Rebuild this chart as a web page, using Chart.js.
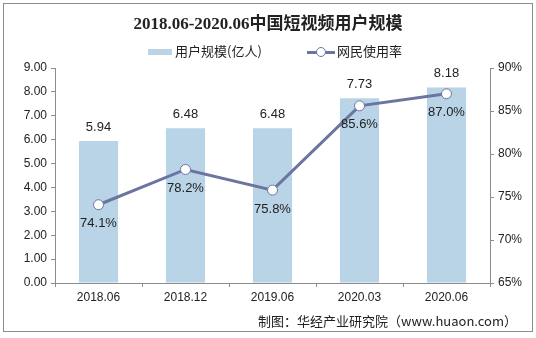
<!DOCTYPE html>
<html>
<head>
<meta charset="utf-8">
<script src="https://cdn.jsdelivr.net/npm/chart.js@4.4.0/dist/chart.umd.min.js"></script>
<style>
html,body{margin:0;padding:0;background:#fff;}
#wrap{position:relative;width:536px;height:338px;overflow:hidden;}
#frame{position:absolute;left:3px;top:3px;width:528px;height:327px;border:1px solid #8c8c8c;box-sizing:content-box;}
#title{position:absolute;left:0;width:536px;top:9px;text-align:center;font:bold 17px "Liberation Serif","DejaVu Serif","Noto Sans CJK SC",serif;color:#222;}
.lg{position:absolute;top:42px;font:13px "Noto Sans CJK SC",sans-serif;color:#222;line-height:18px;}
#src{position:absolute;right:19px;top:311px;font:13px "Noto Sans CJK SC",sans-serif;color:#222;}
canvas{position:absolute;left:0;top:0;}
</style>
</head>
<body>
<div id="wrap">
  <div id="frame"></div>
  <canvas id="c" width="536" height="338"></canvas>
  <div id="title">2018.06-2020.06中国短视频用户规模</div>
  <div class="lg" style="left:148px"><span style="display:inline-block;width:24px;height:6px;background:#b8d4e6;vertical-align:middle;margin-right:3px"></span>用户规模(亿人)</div>
  <div class="lg" style="left:307px"><span style="position:relative;display:inline-block;width:28px;height:10px;vertical-align:middle;margin-right:2px"><span style="position:absolute;left:0;top:4px;width:28px;height:3px;background:#6b75a0"></span><span style="position:absolute;left:9px;top:0;width:8px;height:8px;border:1px solid #6b75a0;border-radius:50%;background:#fff"></span></span>网民使用率</div>
  <div id="src">制图：华经产业研究院（www.huaon.com）</div>
</div>
<script>
const labels = ['2018.06','2018.12','2019.06','2020.03','2020.06'];
const users = [5.94, 6.48, 6.48, 7.73, 8.18];
const rate = [74.1, 78.2, 75.8, 85.6, 87.0];

const barColor = '#b8d4e6';
const lineColor = '#6b75a0';
const axisColor = '#8c8c8c';

// value labels: above the bars, below the line points
const valueLabels = {
  id: 'valueLabels',
  afterDatasetsDraw(chart){
    const ctx = chart.ctx;
    ctx.save();
    ctx.font = '13px "Liberation Sans", Arial, sans-serif';
    ctx.fillStyle = '#222';
    ctx.textAlign = 'center';
    ctx.textBaseline = 'middle';
    chart.getDatasetMeta(1).data.forEach((b,i)=>{
      ctx.fillText(users[i].toFixed(2), b.x, b.y - 14);
    });
    chart.getDatasetMeta(0).data.forEach((p,i)=>{
      ctx.fillText(rate[i].toFixed(1)+'%', p.x, p.y + 19);
    });
    ctx.restore();
  }
};

new Chart(document.getElementById('c'), {
  data: {
    labels,
    datasets: [
      {type:'line', label:'网民使用率', data:rate, yAxisID:'y1', borderColor:lineColor, borderWidth:3,
       pointRadius:5, pointBackgroundColor:'#fff', pointBorderColor:lineColor, pointBorderWidth:1, tension:0, order:0},
      {type:'bar', label:'用户规模(亿人)', data:users, yAxisID:'y', backgroundColor:barColor,
       barPercentage:0.45, categoryPercentage:1, order:1}
    ]
  },
  options: {
    responsive:false,
    animation:false,
    layout:{padding:{left:10, right:6, top:68, bottom:30}},
    plugins:{legend:{display:false}, title:{display:false}, tooltip:{enabled:false}},
    scales:{
      x:{
        grid:{display:true, drawOnChartArea:false, drawTicks:true, tickLength:4, color:axisColor, offset:true},
        border:{color:axisColor},
        ticks:{color:'#222', font:{size:12, family:'"Liberation Sans", Arial, sans-serif'}, padding:3},
        afterFit(s){ s.height = 25; }
      },
      y:{
        position:'left', min:0, max:9,
        grid:{drawOnChartArea:false, tickLength:4, color:axisColor},
        border:{color:axisColor},
        ticks:{stepSize:1, color:'#222', font:{size:12, family:'"Liberation Sans", Arial, sans-serif'}, callback:v=>v.toFixed(2), padding:4},
        afterFit(s){ s.width = 45; }
      },
      y1:{
        position:'right', min:65, max:90,
        grid:{drawOnChartArea:false, tickLength:4, color:axisColor},
        border:{color:axisColor},
        ticks:{stepSize:5, color:'#222', font:{size:12, family:'"Liberation Sans", Arial, sans-serif'}, callback:v=>v+'%', padding:4},
        afterFit(s){ s.width = 40; }
      }
    }
  },
  plugins:[valueLabels]
});
</script>
</body>
</html>
